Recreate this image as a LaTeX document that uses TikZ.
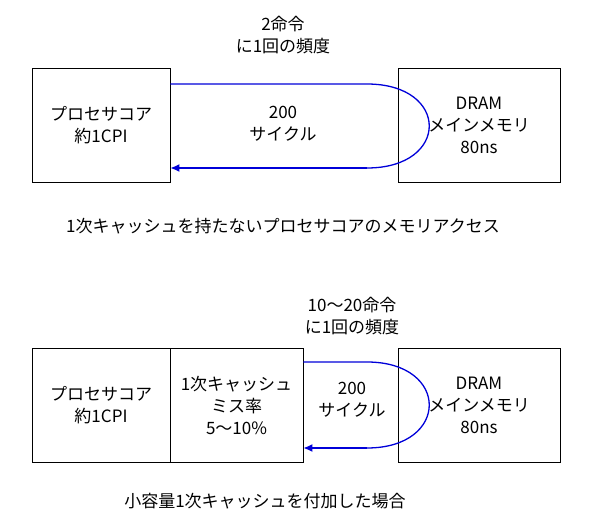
\documentclass[tikz,border=0pt]{standalone}
\usepackage{fontspec}
\usetikzlibrary{arrows.meta}
\setmainfont{Noto Sans CJK JP}
\begin{document}
\begin{tikzpicture}[x=1pt,y=-1pt,
  box/.style={draw,line width=0.8pt,inner sep=0pt},
  lbl/.style={font=\fontsize{17}{22}\selectfont,align=center},
  bl/.style={draw=blue!85!black,line width=1.3pt},
  tip/.style={-{Latex[length=9pt,width=8pt]}}]
\useasboundingbox (0,0) rectangle (600,530);
% top
\node[box,minimum width=138,minimum height=114] (cpu1) at (101,125) {};
\node[lbl] (cpu1t) at (101,125) {プロセサコア\\約1CPI};
\node[box,minimum width=162,minimum height=114] (dram1) at (479,125) {};
\node[lbl] (dram1t) at (479,125) {DRAM\\メインメモリ\\80ns};
\coordinate (a1) at (367,84);
\coordinate (b1) at (367,168);
\draw[bl] (cpu1.north east |- a1) -- (a1) .. controls (450,84) and (450,168) .. (b1);
\draw[bl,tip] (b1) -- (cpu1.east |- b1);
\node[lbl] (freq1) at (283,35) {2命令\\に1回の頻度};
\node[lbl] (cyc1) at (283,124) {200\\サイクル};
\node[lbl] (cap1) at (283,226) {1次キャッシュを持たないプロセサコアのメモリアクセス};
% bottom
\node[box,minimum width=138,minimum height=114] (cpu2) at (101,405) {};
\node[lbl] (cpu2t) at (101,405) {プロセサコア\\約1CPI};
\node[box,minimum width=133,minimum height=114] (cache) at (236.5,405) {};
\node[lbl] (cachet) at (236.5,405) {1次キャッシュ\\ミス率\\5～10\%};
\node[box,minimum width=162,minimum height=114] (dram2) at (479,405) {};
\node[lbl] (dram2t) at (479,405) {DRAM\\メインメモリ\\80ns};
\coordinate (a2) at (367,362);
\coordinate (b2) at (367,448);
\draw[bl] (cache.east |- a2) -- (a2) .. controls (450,362) and (450,448) .. (b2);
\draw[bl,tip] (b2) -- (cache.east |- b2);
\node[lbl] (freq2) at (352,316) {10～20命令\\に1回の頻度};
\node[lbl] (cyc2) at (352,400) {200\\サイクル};
\node[lbl] (cap2) at (265,501) {小容量1次キャッシュを付加した場合};
\end{tikzpicture}
\end{document}
